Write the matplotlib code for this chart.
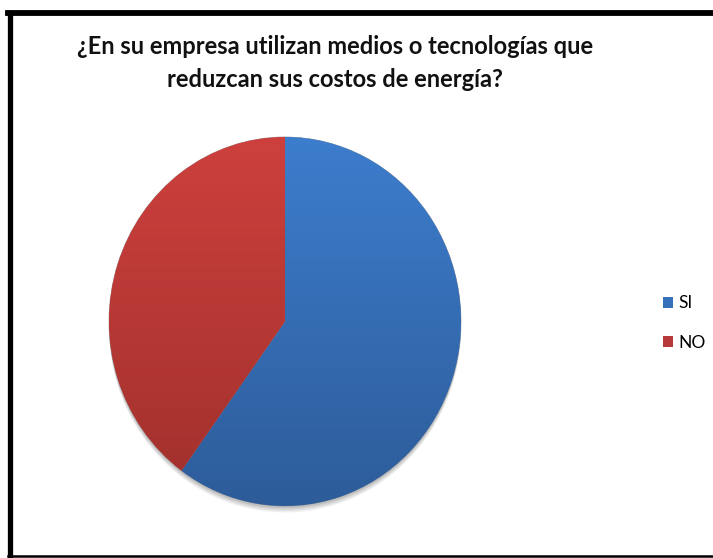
import matplotlib
matplotlib.use("Agg")
import matplotlib.pyplot as plt
import numpy as np
from matplotlib.lines import Line2D
from matplotlib.colors import LinearSegmentedColormap

labels = ["SI", "NO"]
values = [60, 40]
colors = ["#3670bb", "#b8393a"]
grad_top = ["#3d7dcd", "#cd403d"]
grad_bottom = ["#2d5c99", "#a0302c"]
title = "¿En su empresa utilizan medios o tecnologías que\nreduzcan sus costos de energía?"

W, H = 713, 558
fig = plt.figure(figsize=(W/100, H/100), dpi=100)
fig.patch.set_facecolor("white")

def fx(x): return x / W
def fy(y): return 1 - y / H
fig.add_artist(Line2D([fx(10), fx(10)], [fy(13), fy(556)], color="black", lw=3.8, transform=fig.transFigure))
fig.add_artist(Line2D([fx(8), fx(720)], [fy(13), fy(13)], color="black", lw=4.2, transform=fig.transFigure))
fig.add_artist(Line2D([fx(8), fx(720)], [fy(556), fy(556)], color="black", lw=1.8, transform=fig.transFigure))

cx, cy, rx, ry = 285, 321.5, 176, 184.5
ax = fig.add_axes([fx(cx - rx), fy(cy + ry), 2*rx/W, 2*ry/H])
# soft shadow
for dx, dy, a in [(0.0, -0.035, 0.10), (0.0, -0.028, 0.12), (0.0, -0.02, 0.15), (0.0, -0.012, 0.2)]:
    ax.pie(values, colors=["#777777", "#777777"], startangle=90, counterclock=False,
           center=(dx, dy), radius=1.0, wedgeprops=dict(linewidth=0, alpha=a))
wedges, _ = ax.pie(values, colors=colors, startangle=90, counterclock=False,
                   wedgeprops=dict(linewidth=0.5, edgecolor="#9a9a9a"))
grad = np.linspace(0, 1, 256).reshape(-1, 1)
for w, ct, cb in zip(wedges, grad_top, grad_bottom):
    cmap = LinearSegmentedColormap.from_list("g", [ct, cb])
    im = ax.imshow(grad, cmap=cmap, extent=(-1, 1, -1, 1), origin="upper",
                   aspect="auto", zorder=w.get_zorder() + 0.1)
    im.set_clip_path(w)
ax.set_xlim(-1, 1)
ax.set_ylim(-1, 1)
ax.set_aspect("auto")
ax.axis("off")

fig.text(fx(335), fy(63), title, ha="center", va="center", fontsize=17,
         fontweight="bold", family="Lato", linespacing=1.55, color="#111111")

leg = fig.legend(wedges, labels, loc="center left", bbox_to_anchor=(fx(651), fy(323)),
                 frameon=False, handlelength=0.55, handleheight=0.6,
                 handletextpad=0.35, labelspacing=1.35, borderpad=0.2,
                 prop=dict(family="Lato", size=12.5))
for h in leg.legend_handles:
    h.set_edgecolor("none")

fig.savefig("out.png", dpi=100, facecolor="white")
